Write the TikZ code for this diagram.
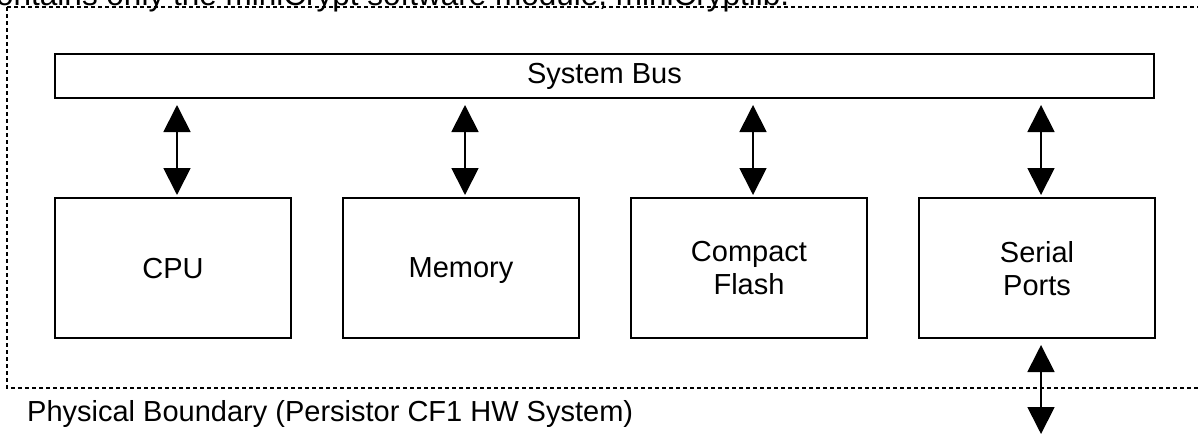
\documentclass[tikz,border=0pt]{standalone}
\usepackage{fontspec}
\setmainfont{Liberation Sans}
\usetikzlibrary{arrows.meta,positioning}

\begin{document}
\begin{tikzpicture}[
  x=1pt, y=-1pt,
  unit/.style={draw, line width=1.9pt, rectangle, outer sep=0pt,
               minimum width=236pt, minimum height=140pt,
               font=\fontsize{29}{33}\selectfont, text depth=0pt,
               align=center, inner sep=0pt},
  bus/.style={draw, line width=1.9pt, rectangle, outer sep=0pt,
              minimum width=1099pt, minimum height=44pt,
              font=\fontsize{29}{33}\selectfont, inner sep=0pt},
  boundary/.style={line width=1.4pt, dash pattern=on 4pt off 3pt},
  link/.style={{Triangle[length=27pt,width=27pt]}-{Triangle[length=27pt,width=27pt]},
               line width=1.8pt, shorten <=7pt, shorten >=3pt},
  caption/.style={font=\fontsize{29}{33}\selectfont, inner sep=0pt, anchor=base west}
]
\clip (0,0) rectangle (1198,434);
% physical boundary
\draw[boundary] (7,7) -- (1210,7) (7,7) -- (7,388) -- (1210,388);
\node[caption, font=\fontsize{31.5}{36}\selectfont] (note) at (-4,5)
  {ontains only the miniCrypt software module, miniCryptlib.};
\node[caption] (phys) at (27,421) {Physical Boundary (Persistor CF1 HW System)};
% bus and units
\node[bus, anchor=north west] (SB) at (55,54) {System Bus};
\node[unit, anchor=north west] (CPU) at (55,198) {CPU};
\node[unit, right=52pt of CPU]  (MEM) {Memory};
\node[unit, right=52pt of MEM]  (CF)  {Compact\\Flash};
\node[unit, right=52pt of CF]   (SP)  {Serial\\Ports};
\coordinate (ext) at ([xshift=4pt]SP.south |- 0,434);
\foreach \u in {CPU,MEM,CF,SP}
  \draw[link] ([xshift=4pt]\u.north |- SB.south) -- ([xshift=4pt]\u.north);
\draw[link, shorten >=0pt] ([xshift=4pt]SP.south) -- (ext);
\end{tikzpicture}
\end{document}
